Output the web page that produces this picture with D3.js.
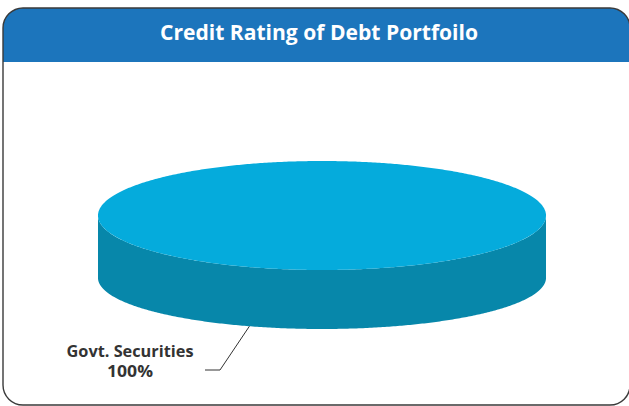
<!DOCTYPE html>
<html>
<head>
<meta charset="utf-8">
<script src="https://cdn.jsdelivr.net/npm/d3@7"></script>
<style>
  html, body { margin: 0; padding: 0; background: #fff; }
  svg { display: block; }
</style>
</head>
<body>
<svg id="chart" width="629" height="406"></svg>
<script>
// Portfolio breakdown by credit rating
const categories = ["Govt. Securities"];
const values = [100];
const valueLabels = ["100%"];
const title = "Credit Rating of Debt Portfoilo";

const topColors = ["#05abdc"];
const sideColors = ["#0787aa"];

const svg = d3.select("#chart");

// Card frame with header band
const fx = 3, fy = 8, fw = 627, fh = 397, fr = 20, headerH = 54;
svg.append("rect")
  .attr("x", fx).attr("y", fy).attr("width", fw).attr("height", fh)
  .attr("rx", fr).attr("ry", fr)
  .attr("fill", "#fff");

// header: rounded top corners, square bottom
const hp = d3.path();
hp.moveTo(fx, fy + headerH);
hp.lineTo(fx, fy + fr);
hp.arcTo(fx, fy, fx + fr, fy, fr);
hp.lineTo(fx + fw - fr, fy);
hp.arcTo(fx + fw, fy, fx + fw, fy + fr, fr);
hp.lineTo(fx + fw, fy + headerH);
hp.closePath();
svg.append("path").attr("d", hp.toString()).attr("fill", "#1c75bc");

svg.append("rect")
  .attr("x", fx).attr("y", fy).attr("width", fw).attr("height", fh)
  .attr("rx", fr).attr("ry", fr)
  .attr("fill", "none").attr("stroke", "#3a3a3a").attr("stroke-width", 1.4);

svg.append("text")
  .attr("x", 319).attr("y", 40)
  .attr("text-anchor", "middle")
  .attr("fill", "#fff")
  .attr("font-family", "'Open Sans', 'DejaVu Sans', sans-serif")
  .attr("font-weight", "bold")
  .attr("font-size", 22)
  .attr("textLength", 318)
  .attr("lengthAdjust", "spacingAndGlyphs")
  .text(title);

// 3D pie geometry: top rim ellipse and a slightly flatter bottom rim (perspective)
const cx = 322, rx = 224;
const cyTop = 215.5, ryTop = 54.5;
const cyBot = 278, ryBot = 51;
const pie = d3.pie().sort(null).value(d => d)(values);

const topPt = a => [cx + rx * Math.sin(a), cyTop - ryTop * Math.cos(a)];
const botPt = a => [cx + rx * Math.sin(a), cyBot - ryBot * Math.cos(a)];

function topPath(s) {
  const p = d3.path();
  const n = Math.max(8, Math.ceil((s.endAngle - s.startAngle) / 0.01));
  const full = (s.endAngle - s.startAngle) >= 2 * Math.PI - 1e-6;
  if (!full) p.moveTo(cx, cyTop);
  for (let i = 0; i <= n; i++) {
    const [x, y] = topPt(s.startAngle + (s.endAngle - s.startAngle) * i / n);
    if (i === 0 && full) p.moveTo(x, y); else p.lineTo(x, y);
  }
  p.closePath();
  return p.toString();
}

// outer wall: only the front half (angles between 90° and 270°) is visible
function sidePath(s) {
  const a0 = Math.max(s.startAngle, Math.PI / 2);
  const a1 = Math.min(s.endAngle, 3 * Math.PI / 2);
  if (a1 <= a0) return null;
  const n = Math.max(8, Math.ceil((a1 - a0) / 0.01));
  const p = d3.path();
  for (let i = 0; i <= n; i++) {
    const [x, y] = topPt(a0 + (a1 - a0) * i / n);
    if (i === 0) p.moveTo(x, y); else p.lineTo(x, y);
  }
  for (let i = n; i >= 0; i--) {
    const [x, y] = botPt(a0 + (a1 - a0) * i / n);
    p.lineTo(x, y);
  }
  p.closePath();
  return p.toString();
}

const g = svg.append("g");
g.selectAll("path.side").data(pie).join("path")
  .attr("class", "side")
  .attr("d", sidePath)
  .attr("fill", (d, i) => sideColors[i]);
g.selectAll("path.top").data(pie).join("path")
  .attr("class", "top")
  .attr("d", topPath)
  .attr("fill", (d, i) => topColors[i]);

// Leader line from the lower rim to the label
const anchorAngle = Math.PI + 0.33;
pie.forEach((s, i) => {
  const [ax, ay] = botPt(anchorAngle);
  svg.append("polyline")
    .attr("points", [[ax, ay], [220, 370], [205, 370]].map(p => p.join(",")).join(" "))
    .attr("fill", "none").attr("stroke", "#333").attr("stroke-width", 1);

  const t = svg.append("text")
    .attr("text-anchor", "middle")
    .attr("fill", "#333")
    .attr("font-family", "'Open Sans', 'DejaVu Sans', sans-serif")
    .attr("font-weight", "bold")
    .attr("font-size", 16);
  t.append("tspan").attr("x", 130).attr("y", 357)
    .attr("textLength", 127).attr("lengthAdjust", "spacingAndGlyphs")
    .text(categories[i]);
  t.append("tspan").attr("x", 130).attr("y", 377)
    .attr("textLength", 46).attr("lengthAdjust", "spacingAndGlyphs")
    .text(valueLabels[i]);
});
</script>
</body>
</html>
